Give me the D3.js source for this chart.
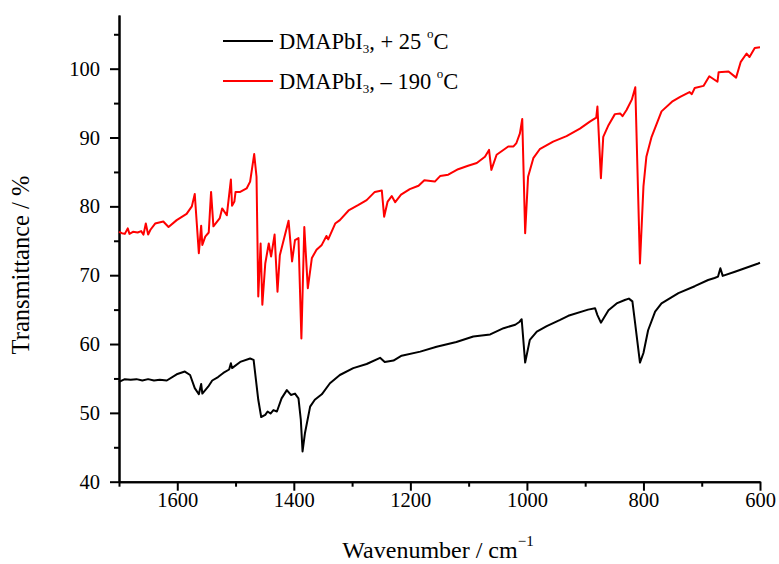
<!DOCTYPE html>
<html>
<head>
<meta charset="utf-8">
<script src="https://cdn.jsdelivr.net/npm/d3@7"></script>
<style>
  text, tspan { font-family: 'Liberation Serif' !important; }
</style>
</head>
<body style="margin:0">
<svg id="chart" width="779" height="564"></svg>
<script>
// DMAPbI3 at +25 C (black)
var warmWn = [1700, 1690, 1680, 1670, 1660, 1650, 1640, 1630, 1618, 1601, 1587, 1578, 1570, 1563, 1559, 1557,
  1547, 1540, 1530, 1521, 1511, 1508, 1506, 1492, 1475, 1469, 1461, 1456, 1449, 1445, 1440, 1435, 1429, 1421,
  1412, 1405, 1398, 1392, 1388, 1385, 1381, 1372, 1364, 1352, 1338, 1321, 1298, 1275, 1252, 1244, 1229, 1215,
  1183, 1155, 1121, 1092, 1063, 1040, 1020, 1013, 1009, 1003, 995, 983, 966, 943, 929, 895, 883, 879, 873, 860,
  846, 832, 825, 819, 815, 806, 800, 792, 780, 769, 740, 712, 689, 678, 672, 668, 664, 643, 620, 603, 600];
var warmT = [54.5, 54.9, 54.8, 54.9, 54.7, 54.9, 54.7, 54.8, 54.7, 55.6, 56.0, 55.5, 53.6, 52.7, 54.2, 52.8,
  53.8, 54.7, 55.2, 55.8, 56.3, 57.2, 56.5, 57.4, 57.9, 57.7, 51.9, 49.4, 49.7, 50.2, 49.9, 50.4, 50.2, 52.1,
  53.3, 52.6, 52.8, 52.1, 49.0, 44.4, 47.0, 50.9, 51.9, 52.7, 54.3, 55.5, 56.5, 57.1, 58.0, 57.4, 57.6, 58.3,
  58.9, 59.6, 60.3, 61.1, 61.4, 62.3, 62.8, 63.2, 63.6, 57.3, 60.6, 61.8, 62.6, 63.5, 64.1, 65.0, 65.2, 64.2, 63.1, 64.9,
  65.9, 66.4, 66.6, 66.2, 63.5, 57.3, 58.7, 62.0, 64.7, 65.9, 67.4, 68.4, 69.3, 69.6, 69.8, 71.0, 69.9, 70.5, 71.2, 71.7, 71.8];

// DMAPbI3 at -190 C (red)
var coldWn = [1700, 1695, 1690, 1685, 1682, 1676, 1668, 1662, 1658, 1654, 1650, 1646, 1638, 1624, 1615, 1601,
  1584, 1575, 1570, 1563, 1559, 1557, 1552, 1546, 1542, 1538, 1527, 1523, 1515, 1508, 1506, 1502, 1500, 1492,
  1481, 1475, 1468, 1464, 1461, 1457, 1454, 1449, 1443, 1439, 1433, 1428, 1424, 1416, 1409, 1403, 1398, 1392,
  1387, 1382, 1376, 1369, 1361, 1352, 1344, 1341, 1329, 1321, 1306, 1289, 1275, 1261, 1249, 1245, 1239, 1232,
  1226, 1216, 1201, 1186, 1176, 1158, 1149, 1135, 1118, 1101, 1086, 1072, 1065, 1061, 1052, 1032, 1023, 1018,
  1012, 1008, 1003, 998, 989, 978, 955, 932, 909, 892, 881, 879, 873, 869, 860, 849, 840, 836, 829, 820, 814,
  806, 800, 795, 786, 769, 751, 737, 721, 717, 712, 697, 687, 673, 671, 654, 641, 633, 623, 618, 609, 600];
var coldT = [76.3, 76.1, 76.0, 76.8, 76.0, 76.3, 76.2, 76.4, 75.9, 77.5, 75.9, 76.6, 77.5, 77.8, 77.0, 78.0,
  78.9, 80.0, 81.8, 73.2, 77.2, 74.4, 75.6, 76.2, 82.1, 77.1, 78.3, 79.7, 78.7, 83.9, 80.1, 80.7, 82.1, 82.1,
  82.6, 83.6, 87.6, 84.3, 66.9, 74.6, 65.7, 71.7, 74.6, 72.7, 75.9, 67.6, 72.9, 75.6, 77.9, 72.0, 75.1, 75.4,
  60.8, 77.0, 68.1, 72.5, 73.7, 74.4, 75.7, 75.2, 77.5, 78.0, 79.4, 80.2, 80.9, 82.1, 82.3, 78.5, 80.7, 81.5,
  80.6, 81.7, 82.5, 83.0, 83.8, 83.6, 84.4, 84.6, 85.4, 85.9, 86.3, 87.2, 88.2, 85.3, 87.5, 88.7, 88.7, 89.2,
  90.6, 92.7, 76.1, 84.3, 87.0, 88.3, 89.4, 90.2, 91.3, 92.3, 92.9, 94.5, 84.1, 90.1, 91.8, 93.4, 93.5, 93.1, 94.0, 95.5, 97.3,
  71.7, 82.9, 87.2, 90.1, 93.8, 95.2, 95.9, 96.6, 96.3, 97.2, 97.5, 98.9, 98.1, 99.5, 99.6, 98.7, 101.0, 102.2, 101.7, 103.0, 103.1];

var xMajor = [1600, 1400, 1200, 1000, 800, 600];
var xMinor = [1700, 1500, 1300, 1100, 900, 700];
var yMajor = [40, 50, 60, 70, 80, 90, 100];
var yMinor = [45, 55, 65, 75, 85, 95, 105];

var serif = "'Liberation Serif'";

var svg = d3.select("#chart");

var x = d3.scaleLinear().domain([1700, 600]).range([119, 760]);
var y = d3.scaleLinear().domain([40, 107.8]).range([481.7, 15]);

// axes: major ticks with labels, minor ticks shorter
function styleAxis(g) {
  g.attr("font-family", null);
  g.selectAll("path.domain").attr("stroke", "#000").attr("stroke-width", 2);
  g.selectAll(".tick line").attr("stroke", "#000").attr("stroke-width", 2);
  g.selectAll(".tick text")
    .attr("fill", "#000")
    .style("font-family", serif)
    .style("font-size", "20.5px");
}

svg.append("g")
  .attr("transform", "translate(0," + y(40) + ")")
  .call(d3.axisBottom(x).tickValues(xMinor).tickSize(5).tickSizeOuter(0).tickFormat(""))
  .call(styleAxis);
svg.append("g")
  .attr("transform", "translate(0," + y(40) + ")")
  .call(d3.axisBottom(x).tickValues(xMajor).tickSize(9).tickSizeOuter(0).tickPadding(2).tickFormat(d3.format("d")))
  .call(styleAxis);

svg.append("g")
  .attr("transform", "translate(" + x(1700) + ",0)")
  .call(d3.axisLeft(y).tickValues(yMinor).tickSize(5).tickSizeOuter(0).tickFormat(""))
  .call(styleAxis);
svg.append("g")
  .attr("transform", "translate(" + x(1700) + ",0)")
  .call(d3.axisLeft(y).tickValues(yMajor).tickSize(9).tickSizeOuter(0).tickPadding(10).tickFormat(d3.format("d")))
  .call(styleAxis);

// spectra
var line = d3.line()
  .x(function(d) { return x(d[0]); })
  .y(function(d) { return y(d[1]); });

svg.append("path")
  .datum(d3.zip(warmWn, warmT))
  .attr("fill", "none")
  .attr("stroke", "#000")
  .attr("stroke-width", 2)
  .attr("stroke-linejoin", "round")
  .attr("d", line);

svg.append("path")
  .datum(d3.zip(coldWn, coldT))
  .attr("fill", "none")
  .attr("stroke", "#ff0000")
  .attr("stroke-width", 2)
  .attr("stroke-linejoin", "round")
  .attr("d", line);

// axis titles
var xt = svg.append("text")
  .attr("x", 438).attr("y", 558)
  .attr("text-anchor", "middle")
  .style("font-family", serif).style("font-size", "24px");
xt.append("tspan").text("Wavenumber / cm");
xt.append("tspan").attr("dy", -12).style("font-size", "15px").text("\u22121");

svg.append("text")
  .attr("transform", "translate(29,265) rotate(-90)")
  .attr("text-anchor", "middle")
  .style("font-family", serif).style("font-size", "24.5px")
  .text("Transmittance / %");

// legend
var legend = [
  {color: "#000", y: 41, temp: ", + 25 "},
  {color: "#ff0000", y: 81, temp: ", \u2013 190 "}
];
legend.forEach(function(l) {
  svg.append("line")
    .attr("x1", 223).attr("x2", 273)
    .attr("y1", l.y).attr("y2", l.y)
    .attr("stroke", l.color).attr("stroke-width", 2);
  var t = svg.append("text")
    .attr("x", 279).attr("y", l.y + 8)
    .style("font-family", serif).style("font-size", "22.5px");
  t.append("tspan").text("DMAPbI");
  t.append("tspan").attr("dy", 4).style("font-size", "13px").text("3");
  t.append("tspan").attr("dy", -4).text(l.temp);
  t.append("tspan").attr("dy", -11).style("font-size", "13px").text("o");
  t.append("tspan").attr("dy", 11).text("C");
});
</script>
</body>
</html>
